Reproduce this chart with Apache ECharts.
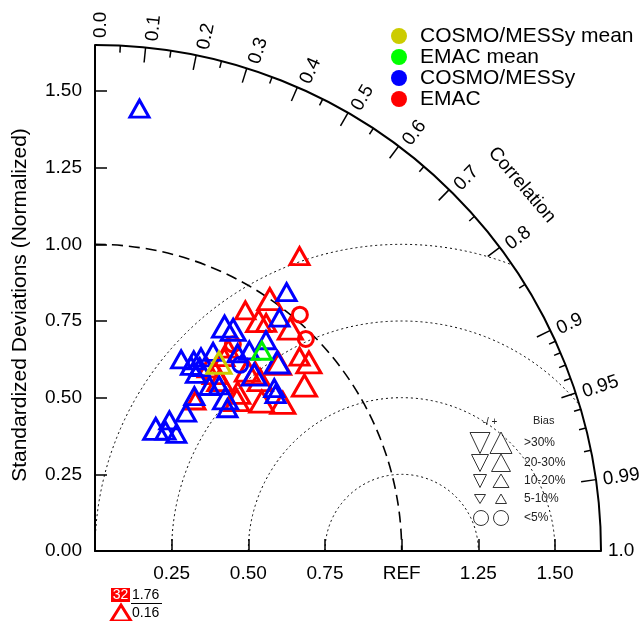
<!DOCTYPE html>
<html><head><meta charset="utf-8">
<script src="https://cdn.jsdelivr.net/npm/echarts@6/dist/echarts.min.js"></script>
<style>html,body{margin:0;padding:0;background:#fff}#c{width:640px;height:621px}</style>
</head><body><div id="c"></div>
<script>
// ---------- data ----------
const maxSD = 1.65;
const sdTickValues = [0, 0.25, 0.5, 0.75, 1.0, 1.25, 1.5];
const xTickValues = [0.25, 0.5, 0.75, 1.0, 1.25, 1.5];
const refRings = [0.25, 0.5, 0.75, 1.0];
const corrMajorTicks = [0.1, 0.2, 0.3, 0.4, 0.5, 0.6, 0.7, 0.8, 0.9, 0.95, 0.99];
const corrMinorTicks = [0.05, 0.15, 0.25, 0.35, 0.45, 0.55, 0.65, 0.75, 0.85, 0.91, 0.92, 0.93, 0.94, 0.96, 0.97, 0.98];
const corrLabels = [0.0, 0.1, 0.2, 0.3, 0.4, 0.5, 0.6, 0.7, 0.8, 0.9, 0.95, 0.99, 1.0];
// bias classes: 0 <5%, 1 5-10%, 2 10-20%, 3 20-30%, 4 >30%
const biasClassLabels = ['<5%', '5-10%', '10-20%', '20-30%', '>30%'];
// points: [normalized SD, correlation, bias class]  (all positive bias)
const emacPoints = [
  [1.17, 0.57, 3], [1.00, 0.57, 4], [0.925, 0.53, 3], [0.92, 0.58, 4], [0.93, 0.60, 3],
  [0.965, 0.66, 4], [1.02, 0.655, 0], [0.975, 0.705, 0], [0.92, 0.725, 3], [0.93, 0.75, 4],
  [0.87, 0.785, 4], [0.78, 0.785, 4], [0.73, 0.745, 4], [0.675, 0.685, 4], [0.59, 0.555, 3],
  [0.855, 0.70, 4], [0.78, 0.67, 4], [0.775, 0.695, 4], [0.69, 0.59, 4], [0.79, 0.55, 3],
  [0.76, 0.555, 3], [0.70, 0.56, 4], [0.695, 0.67, 4], [0.77, 0.645, 4], [0.70, 0.525, 3],
  [0.81, 0.555, 0]
];
const cosmoPoints = [
  [1.05, 0.595, 3], [0.97, 0.62, 3], [0.845, 0.50, 4], [0.85, 0.53, 4], [0.885, 0.63, 3],
  [0.825, 0.61, 3], [0.755, 0.51, 3], [0.685, 0.41, 3], [0.70, 0.46, 3], [0.69, 0.495, 3],
  [0.855, 0.695, 4], [0.775, 0.67, 4], [0.79, 0.74, 3], [0.78, 0.755, 3], [0.60, 0.54, 3],
  [0.655, 0.65, 4], [0.635, 0.68, 3], [0.54, 0.55, 3], [0.445, 0.445, 4], [0.49, 0.495, 3],
  [0.455, 0.505, 3], [0.465, 0.57, 3], [0.665, 0.495, 3], [0.655, 0.57, 3], [0.795, 0.585, 3],
  [0.72, 0.48, 3], [0.68, 0.46, 3], [1.45, 0.10, 3], [0.77, 0.615, 0], [0.675, 0.60, 3]
];
const cosmoMean = [[0.735, 0.55, 4]];
const emacMean = [[0.85, 0.64, 3]];
const seriesNames = ['COSMO/MESSy mean', 'EMAC mean', 'COSMO/MESSy', 'EMAC'];
const outOfRange = { count: 32, sd: 1.76, corr: 0.16 };

// ---------- helpers ----------
const FONT = '"Liberation Sans", Arial, sans-serif';
const ORIGIN = [95, 551];
const R_PX = 506;
function toXY(sd, c) { return [sd * c, sd * Math.sqrt(Math.max(0, 1 - c * c))]; }
const symbolBox = { 4: [24, 21], 3: [19, 17], 2: [15, 13], 1: [11, 10], 0: [15, 15] };
function toItems(points) {
  return points.map(p => ({
    value: toXY(p[0], p[1]),
    symbol: p[2] === 0 ? 'circle' : 'triangle',
    symbolSize: symbolBox[p[2]]
  }));
}
function scatter(name, points, color, z) {
  return {
    type: 'scatter', name: name, data: toItems(points), z: z, silent: true,
    itemStyle: { color: 'rgba(0,0,0,0)', borderColor: color, borderWidth: 3, opacity: 1 },
    emphasis: { disabled: true }
  };
}

const chart = echarts.init(document.getElementById('c'), null, { renderer: 'canvas' });

const axisCommon = {
  type: 'value', min: 0, max: maxSD,
  splitLine: { show: false },
  axisLine: { show: true, lineStyle: { color: '#000', width: 2 } },
  axisTick: { show: true, inside: true, length: 12, lineStyle: { color: '#000', width: 1.5 } }
};

// bias legend graphics
const bl = [];
const rowY = [443, 463, 481, 499, 518];
const rowSizes = [[20, 21, 22], [17, 17, 19], [13, 13, 16], [11, 9, 11]];
const rowLabels = ['>30%', '20-30%', '10-20%', '5-10%', '<5%'];
for (let i = 0; i < 4; i++) {
  const y = rowY[i], s = rowSizes[i];
  const dw = s[0] / 2, dh = s[1] / 2, uw = s[2] / 2;
  bl.push({ type: 'polygon', shape: { points: [[480 - dw, y - dh], [480 + dw, y - dh], [480, y + dh]] },
    style: { fill: 'none', stroke: '#333', lineWidth: 1 } });
  bl.push({ type: 'polygon', shape: { points: [[501, y - dh - 0.5], [501 + uw, y + dh], [501 - uw, y + dh]] },
    style: { fill: 'none', stroke: '#333', lineWidth: 1 } });
}
bl.push({ type: 'circle', shape: { cx: 481, cy: 518, r: 7.5 }, style: { fill: 'none', stroke: '#333', lineWidth: 1 } });
bl.push({ type: 'circle', shape: { cx: 501, cy: 518, r: 7.5 }, style: { fill: 'none', stroke: '#333', lineWidth: 1 } });
rowLabels.forEach((t, i) => bl.push({ type: 'text', x: 524, y: rowY[i],
  style: { text: t, font: '12px ' + FONT, fill: '#222', verticalAlign: 'middle', align: 'left' } }));
bl.push({ type: 'text', x: 490, y: 422, style: { text: '-/ +', font: '10px ' + FONT, fill: '#222', align: 'center', verticalAlign: 'middle' } });
bl.push({ type: 'text', x: 533, y: 421, style: { text: 'Bias', font: '11px ' + FONT, fill: '#222', align: 'left', verticalAlign: 'middle' } });

// series legend graphics
const legendColors = ['#cccc00', '#00ff00', '#0000ff', '#ff0000'];
const lg = [];
seriesNames.forEach((n, i) => {
  const y = 36 + i * 21;
  lg.push({ type: 'circle', shape: { cx: 399, cy: y, r: 8 }, style: { fill: legendColors[i] } });
  lg.push({ type: 'text', x: 420, y: y, style: { text: n, font: '21px ' + FONT, fill: '#000', verticalAlign: 'middle', align: 'left' } });
});

// out-of-range indicator
const oor = [
  { type: 'rect', shape: { x: 111, y: 588, width: 19, height: 14 }, style: { fill: '#ff0000' } },
  { type: 'text', x: 120.5, y: 595, style: { text: String(outOfRange.count), font: '14px ' + FONT, fill: '#fff', align: 'center', verticalAlign: 'middle' } },
  { type: 'text', x: 132, y: 595, style: { text: outOfRange.sd.toFixed(2), font: '14px ' + FONT, fill: '#000', align: 'left', verticalAlign: 'middle' } },
  { type: 'line', shape: { x1: 131, y1: 603.5, x2: 162, y2: 603.5 }, style: { stroke: '#000', lineWidth: 1 } },
  { type: 'text', x: 132, y: 613, style: { text: outOfRange.corr.toFixed(2), font: '14px ' + FONT, fill: '#000', align: 'left', verticalAlign: 'middle' } },
  { type: 'polygon', shape: { points: [[121, 605], [131, 621], [111, 621]] }, style: { fill: 'none', stroke: '#ff0000', lineWidth: 3 } }
];

const option = {
  animation: false,
  backgroundColor: '#fff',
  grid: { left: ORIGIN[0], top: ORIGIN[1] - R_PX, width: R_PX, height: R_PX, containLabel: false },
  xAxis: Object.assign({}, axisCommon, {
    axisTick: Object.assign({}, axisCommon.axisTick, { customValues: xTickValues }),
    axisLabel: { customValues: xTickValues, margin: 13, fontSize: 19, fontFamily: FONT, color: '#000',
      formatter: v => (Math.abs(v - 1) < 1e-9 ? 'REF' : v.toFixed(2)) }
  }),
  yAxis: Object.assign({}, axisCommon, {
    axisTick: Object.assign({}, axisCommon.axisTick, { customValues: sdTickValues }),
    axisLabel: { customValues: sdTickValues, margin: 13, fontSize: 19, fontFamily: FONT, color: '#000',
      formatter: v => v.toFixed(2) }
  }),
  graphic: [
    { type: 'text', x: 20, y: 305, rotation: Math.PI / 2,
      style: { text: 'Standardized Deviations (Normalized)', font: '21px ' + FONT, fill: '#000', align: 'center', verticalAlign: 'middle' } },
    { type: 'text', x: 522, y: 185, rotation: -0.864,
      style: { text: 'Correlation', font: '19px ' + FONT, fill: '#000', align: 'center', verticalAlign: 'middle' } }
  ].concat(lg, bl, oor),
  series: [
    { // outer arc + SD=1 dashed arc
      type: 'custom', silent: true, z: 1,
      data: [[maxSD, 0, 0], [1.0, 0, 1]],
      renderItem: (params, api) => {
        const r = api.value(0), dashed = api.value(2) === 1;
        const c = api.coord([0, 0]);
        const rp = api.size([r, r])[0];
        return { type: 'arc', shape: { cx: c[0], cy: c[1], r: rp, startAngle: -Math.PI / 2, endAngle: 0, clockwise: true },
          style: { fill: 'none', stroke: '#000', lineWidth: dashed ? 1.6 : 2, lineDash: dashed ? [11, 6] : null } };
      }
    },
    { // RMS rings around REF
      type: 'custom', silent: true, z: 1,
      data: refRings.map(r => [r, 0]),
      renderItem: (params, api) => {
        const r = api.value(0);
        let start = 0;
        if (1 + r > maxSD) {
          const xi = (maxSD * maxSD - r * r + 1) / 2;
          const yi = Math.sqrt(Math.max(0, r * r - (xi - 1) * (xi - 1)));
          start = Math.atan2(yi, xi - 1);
        }
        const c = api.coord([1, 0]);
        const rp = api.size([r, r])[0];
        return { type: 'arc', shape: { cx: c[0], cy: c[1], r: rp, startAngle: -Math.PI, endAngle: -start, clockwise: true },
          style: { fill: 'none', stroke: '#000', lineWidth: 1, lineDash: [2, 3] } };
      }
    },
    { // correlation ticks
      type: 'custom', silent: true, z: 2,
      data: corrMajorTicks.map(c => [c, 0, 15]).concat(corrMinorTicks.map(c => [c, 0, 7])),
      renderItem: (params, api) => {
        const c = api.value(0), len = api.value(2);
        const p1 = api.coord(toXY(maxSD, c));
        const ang = Math.acos(c);
        return { type: 'line', shape: { x1: p1[0], y1: p1[1], x2: p1[0] - len * Math.cos(ang), y2: p1[1] + len * Math.sin(ang) },
          style: { stroke: '#000', lineWidth: 1.5 } };
      }
    },
    { // correlation labels
      type: 'custom', silent: true, z: 2,
      data: corrLabels.map(c => [c, 0]),
      renderItem: (params, api) => {
        const c = api.value(0);
        const ang = Math.acos(c);
        const p = api.coord(toXY(maxSD, c));
        const off = 7, perp = 6 * Math.sin(ang);
        const x = p[0] + off * Math.cos(ang) + perp * Math.sin(ang);
        const y = p[1] - off * Math.sin(ang) + perp * Math.cos(ang);
        const txt = (c === 0 ? '0.0' : c === 1 ? '1.0' : String(c));
        return { type: 'text', x: x, y: y, rotation: ang,
          style: { text: txt, font: '19px ' + FONT, fill: '#000', align: 'left', verticalAlign: 'middle' } };
      }
    },
    scatter(seriesNames[3], emacPoints, '#ff0000', 5),
    scatter(seriesNames[2], cosmoPoints, '#0000ff', 6),
    scatter(seriesNames[0], cosmoMean, '#cccc00', 7),
    scatter(seriesNames[1], emacMean, '#00ee00', 8)
  ]
};
chart.setOption(option);
</script>
</body></html>
